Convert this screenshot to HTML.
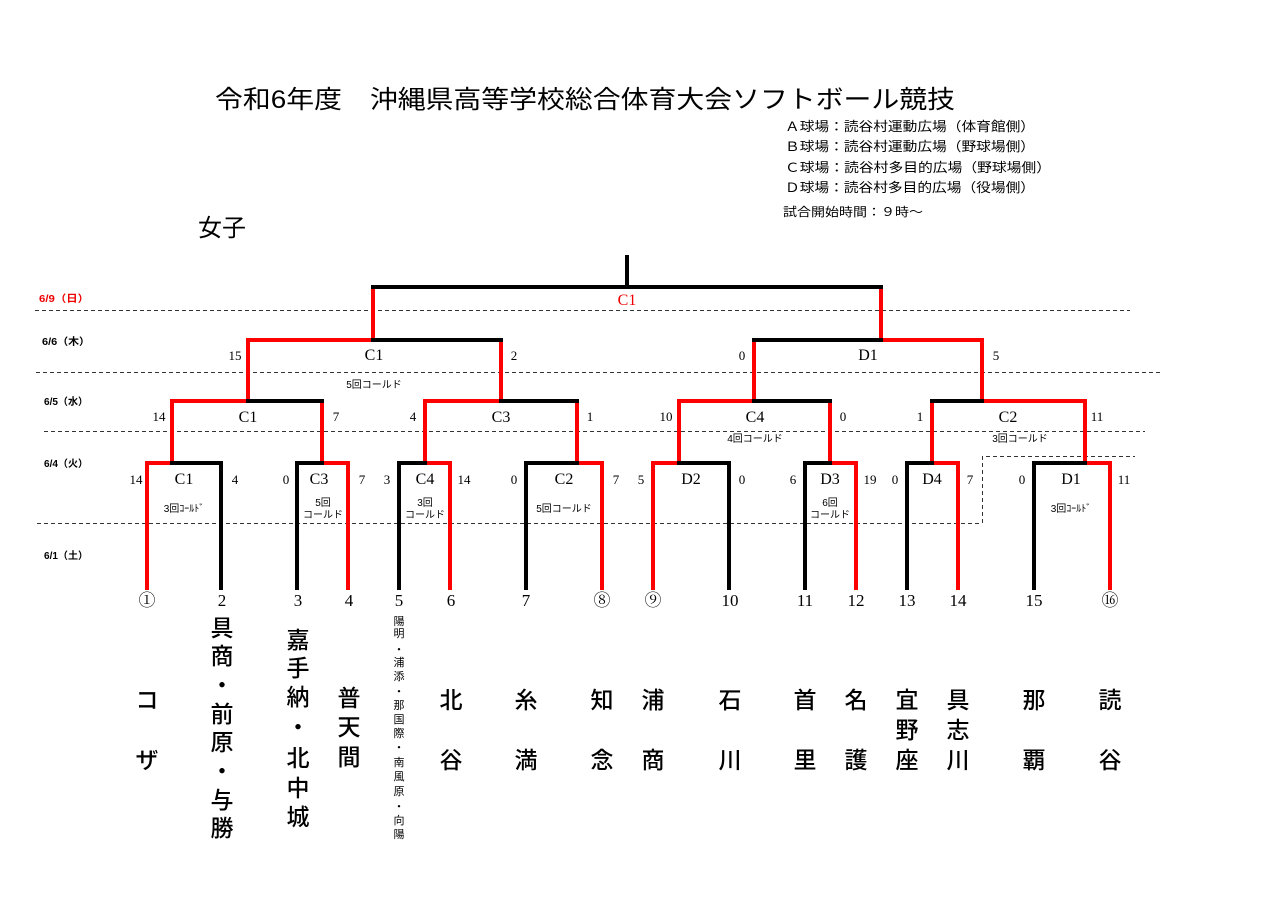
<!DOCTYPE html>
<html><head><meta charset="utf-8"><style>
html,body{margin:0;padding:0;background:#fff;}
svg{display:block;}
.s{font-family:"Liberation Serif","Noto Serif CJK SC",serif;}
.g{font-family:"Liberation Sans","Noto Sans CJK JP",sans-serif;}
</style></head><body>
<svg width="1280" height="905" viewBox="0 0 1280 905" xmlns="http://www.w3.org/2000/svg">
<rect width="1280" height="905" fill="#fff"/>
<text class="g" x="215" y="108" font-size="25" textLength="740" lengthAdjust="spacingAndGlyphs">令和6年度　沖縄県高等学校総合体育大会ソフトボール競技</text>
<g class="g" font-size="13">
<text x="785" y="131" textLength="250" lengthAdjust="spacingAndGlyphs">Ａ球場：読谷村運動広場（体育館側）</text>
<text x="785" y="151" textLength="250" lengthAdjust="spacingAndGlyphs">Ｂ球場：読谷村運動広場（野球場側）</text>
<text x="785" y="172" textLength="266" lengthAdjust="spacingAndGlyphs">Ｃ球場：読谷村多目的広場（野球場側）</text>
<text x="785" y="192" textLength="250" lengthAdjust="spacingAndGlyphs">Ｄ球場：読谷村多目的広場（役場側）</text>
<text x="783" y="216" font-size="12" textLength="140" lengthAdjust="spacingAndGlyphs">試合開始時間：９時～</text>
</g>
<text class="g" x="198" y="236" font-size="24">女子</text>
<g class="g" font-size="10" font-weight="bold">
<text x="39" y="302" fill="#e00" textLength="50" lengthAdjust="spacingAndGlyphs">6/9（日）</text>
<text x="42" y="345" textLength="48" lengthAdjust="spacingAndGlyphs">6/6（木）</text>
<text x="44" y="405" textLength="44" lengthAdjust="spacingAndGlyphs">6/5（水）</text>
<text x="44" y="467" textLength="44" lengthAdjust="spacingAndGlyphs">6/4（火）</text>
<text x="44" y="559" textLength="44" lengthAdjust="spacingAndGlyphs">6/1（土）</text>
</g>
<g stroke="#333" stroke-width="1" stroke-dasharray="4,3" fill="none">
<line x1="35" y1="310.5" x2="1130" y2="310.5"/>
<line x1="36" y1="372.5" x2="1160" y2="372.5"/>
<line x1="44" y1="431.5" x2="1145" y2="431.5"/>
<line x1="37" y1="523.5" x2="982" y2="523.5"/>
<polyline points="982.5,523 982.5,456.5 1135,456.5"/>
</g>
<g stroke-width="4" fill="none" stroke-linecap="square">
<g stroke="#f00">
<line x1="147" y1="463" x2="147" y2="588"/><line x1="348" y1="463" x2="348" y2="588"/>
<line x1="450" y1="463" x2="450" y2="588"/><line x1="602" y1="463" x2="602" y2="588"/>
<line x1="653" y1="463" x2="653" y2="588"/><line x1="856" y1="463" x2="856" y2="588"/>
<line x1="958" y1="463" x2="958" y2="588"/><line x1="1110" y1="463" x2="1110" y2="588"/>
</g>
<g stroke="#000">
<line x1="221" y1="463" x2="221" y2="588"/><line x1="297" y1="463" x2="297" y2="588"/>
<line x1="399" y1="463" x2="399" y2="588"/><line x1="526" y1="463" x2="526" y2="588"/>
<line x1="729" y1="463" x2="729" y2="588"/><line x1="805" y1="463" x2="805" y2="588"/>
<line x1="907" y1="463" x2="907" y2="588"/><line x1="1034" y1="463" x2="1034" y2="588"/>
</g>
<g stroke="#f00">
<line x1="147" y1="463" x2="172" y2="463"/><line x1="322" y1="463" x2="348" y2="463"/>
<line x1="425" y1="463" x2="450" y2="463"/><line x1="577" y1="463" x2="602" y2="463"/>
<line x1="653" y1="463" x2="679" y2="463"/><line x1="830" y1="463" x2="856" y2="463"/>
<line x1="932" y1="463" x2="958" y2="463"/><line x1="1085" y1="463" x2="1110" y2="463"/>
<line x1="172" y1="401" x2="172" y2="463"/><line x1="322" y1="401" x2="322" y2="463"/>
<line x1="425" y1="401" x2="425" y2="463"/><line x1="577" y1="401" x2="577" y2="463"/>
<line x1="679" y1="401" x2="679" y2="463"/><line x1="830" y1="401" x2="830" y2="463"/>
<line x1="932" y1="401" x2="932" y2="463"/><line x1="1085" y1="401" x2="1085" y2="463"/>
</g>
<g stroke="#000">
<line x1="172" y1="463" x2="221" y2="463"/><line x1="297" y1="463" x2="322" y2="463"/>
<line x1="399" y1="463" x2="425" y2="463"/><line x1="526" y1="463" x2="577" y2="463"/>
<line x1="679" y1="463" x2="729" y2="463"/><line x1="805" y1="463" x2="830" y2="463"/>
<line x1="907" y1="463" x2="932" y2="463"/><line x1="1034" y1="463" x2="1085" y2="463"/>
</g>
<g stroke="#f00">
<line x1="172" y1="401" x2="248" y2="401"/><line x1="425" y1="401" x2="501" y2="401"/>
<line x1="679" y1="401" x2="754" y2="401"/><line x1="982" y1="401" x2="1085" y2="401"/>
<line x1="248" y1="340" x2="248" y2="401"/><line x1="501" y1="340" x2="501" y2="401"/>
<line x1="754" y1="340" x2="754" y2="401"/><line x1="982" y1="340" x2="982" y2="401"/>
</g>
<g stroke="#000">
<line x1="248" y1="401" x2="322" y2="401"/><line x1="501" y1="401" x2="577" y2="401"/>
<line x1="754" y1="401" x2="830" y2="401"/><line x1="932" y1="401" x2="982" y2="401"/>
</g>
<g stroke="#f00">
<line x1="248" y1="340" x2="373" y2="340"/><line x1="881" y1="340" x2="982" y2="340"/>
<line x1="373" y1="287" x2="373" y2="340"/><line x1="881" y1="287" x2="881" y2="340"/>
</g>
<g stroke="#000">
<line x1="373" y1="340" x2="501" y2="340"/><line x1="754" y1="340" x2="881" y2="340"/>
<line x1="373" y1="287" x2="881" y2="287"/>
<line x1="627" y1="257" x2="627" y2="287"/>
</g>
</g>
<g class="s" font-size="16" text-anchor="middle">
<text x="627" y="305" fill="#e00">C1</text>
<text x="374" y="360">C1</text><text x="868" y="360">D1</text>
<text x="248" y="422">C1</text><text x="501" y="422">C3</text>
<text x="755" y="422">C4</text><text x="1008" y="422">C2</text>
<text x="184" y="484">C1</text><text x="319" y="484">C3</text>
<text x="425" y="484">C4</text><text x="564" y="484">C2</text>
<text x="691" y="484">D2</text><text x="830" y="484">D3</text>
<text x="932" y="484">D4</text><text x="1071" y="484">D1</text>
</g>
<g class="s" font-size="13" text-anchor="middle">
<text x="235" y="360">15</text><text x="514" y="360">2</text>
<text x="742" y="360">0</text><text x="996" y="360">5</text>
<text x="159" y="421">14</text><text x="336" y="421">7</text>
<text x="413" y="421">4</text><text x="590" y="421">1</text>
<text x="666" y="421">10</text><text x="843" y="421">0</text>
<text x="920" y="421">1</text><text x="1097" y="421">11</text>
<text x="136" y="484">14</text><text x="235" y="484">4</text>
<text x="286" y="484">0</text><text x="362" y="484">7</text>
<text x="387" y="484">3</text><text x="464" y="484">14</text>
<text x="514" y="484">0</text><text x="616" y="484">7</text>
<text x="641" y="484">5</text><text x="742" y="484">0</text>
<text x="793" y="484">6</text><text x="870" y="484">19</text>
<text x="895" y="484">0</text><text x="970" y="484">7</text>
<text x="1022" y="484">0</text><text x="1124" y="484">11</text>
</g>
<g class="g" font-size="10" text-anchor="middle">
<text x="374" y="388">5回コールド</text>
<text x="755" y="442">4回コールド</text>
<text x="1020" y="442">3回コールド</text>
<text x="184" y="512">3回ｺｰﾙﾄﾞ</text>
<text x="323" y="506">5回</text><text x="323" y="518">コールド</text>
<text x="425" y="506">3回</text><text x="425" y="518">コールド</text>
<text x="564" y="512">5回コールド</text>
<text x="830" y="506">6回</text><text x="830" y="518">コールド</text>
<text x="1071" y="512">3回ｺｰﾙﾄﾞ</text>
</g>
<g class="s" font-size="17" text-anchor="middle">
<text x="147" y="606">①</text><text x="222" y="606">2</text><text x="298" y="606">3</text><text x="349" y="606">4</text>
<text x="399" y="606">5</text><text x="451" y="606">6</text><text x="526" y="606">7</text><text x="602" y="606">⑧</text>
<text x="653" y="606">⑨</text><text x="730" y="606">10</text><text x="805" y="606">11</text><text x="856" y="606">12</text>
<text x="907" y="606">13</text><text x="958" y="606">14</text><text x="1034" y="606">15</text><text x="1110" y="606">⑯</text>
</g>
<g class="g" font-size="23" font-weight="500" text-anchor="middle" dominant-baseline="central">
<text x="147" y="700">コ</text><text x="147" y="760">ザ</text>
<text x="222" y="628">具</text><text x="222" y="656">商</text><text x="222" y="685">・</text><text x="222" y="714">前</text><text x="222" y="742">原</text><text x="222" y="771">・</text><text x="222" y="800">与</text><text x="222" y="828">勝</text>
<text x="298" y="640">嘉</text><text x="298" y="668">手</text><text x="298" y="697">納</text><text x="298" y="727">・</text><text x="298" y="758">北</text><text x="298" y="788">中</text><text x="298" y="817">城</text>
<text x="349" y="698">普</text><text x="349" y="727">天</text><text x="349" y="757">間</text>
<text x="451" y="700">北</text><text x="451" y="760">谷</text>
<text x="526" y="700">糸</text><text x="526" y="760">満</text>
<text x="602" y="700">知</text><text x="602" y="760">念</text>
<text x="653" y="700">浦</text><text x="653" y="760">商</text>
<text x="730" y="700">石</text><text x="730" y="760">川</text>
<text x="805" y="700">首</text><text x="805" y="760">里</text>
<text x="856" y="700">名</text><text x="856" y="760">護</text>
<text x="907" y="700">宜</text><text x="907" y="730">野</text><text x="907" y="760">座</text>
<text x="958" y="700">具</text><text x="958" y="730">志</text><text x="958" y="760">川</text>
<text x="1034" y="700">那</text><text x="1034" y="760">覇</text>
<text x="1110" y="700">読</text><text x="1110" y="760">谷</text>
</g>
<g class="g" font-size="11" text-anchor="middle" dominant-baseline="central">
<text x="399" y="622">陽</text><text x="399" y="634">明</text><text x="399" y="650">・</text>
<text x="399" y="663">浦</text><text x="399" y="677">添</text><text x="399" y="692">・</text>
<text x="399" y="706">那</text><text x="399" y="720">国</text><text x="399" y="734">際</text><text x="399" y="748">・</text>
<text x="399" y="763">南</text><text x="399" y="777">風</text><text x="399" y="792">原</text><text x="399" y="807">・</text>
<text x="399" y="821">向</text><text x="399" y="835">陽</text>
</g>
</svg>
</body></html>
